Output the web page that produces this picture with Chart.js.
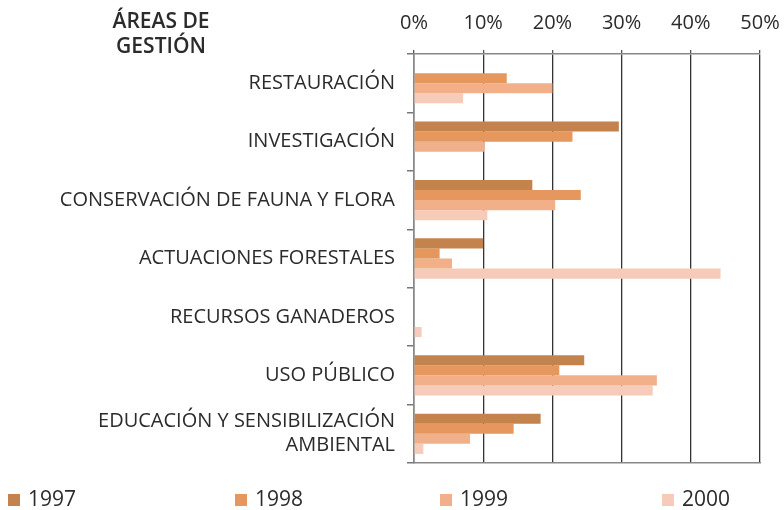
<!DOCTYPE html>
<html>
<head>
<meta charset="utf-8">
<script src="https://cdn.jsdelivr.net/npm/chart.js@4"></script>
<style>
  html, body { margin: 0; padding: 0; background: #fff; }
  #wrap { width: 784px; height: 510px; position: relative; }
</style>
</head>
<body>
<div id="wrap"><canvas id="chart" width="784" height="510"></canvas></div>
<script>
// áreas de gestión, % por año
const categories = [
  'RESTAURACIÓN',
  'INVESTIGACIÓN',
  'CONSERVACIÓN DE FAUNA Y FLORA',
  'ACTUACIONES FORESTALES',
  'RECURSOS GANADEROS',
  'USO PÚBLICO',
  ['EDUCACIÓN Y SENSIBILIZACIÓN', 'AMBIENTAL']
];
const years = ['1997', '1998', '1999', '2000'];
const v1997 = [0, 29.6, 17.1, 10.0, 0, 24.6, 18.3];
const v1998 = [13.4, 22.9, 24.1, 3.7, 0, 21.0, 14.4];
const v1999 = [20.0, 10.2, 20.4, 5.5, 0, 35.1, 8.1];
const v2000 = [7.1, 0, 10.6, 44.3, 1.1, 34.5, 1.35];
const xTicks = [0, 10, 20, 30, 40, 50];

const COLORS = ['#c4834d', '#e5975d', '#f2b08a', '#f6cbb9'];
const FONT = '"Open Sans", "Noto Sans", sans-serif';
const TEXT = '#2b2b2b';

// title + legend drawn by hand, the legend is spread over the full width
const extras = {
  id: 'extras',
  afterDraw(chart) {
    const c = chart.ctx;
    c.save();
    c.fillStyle = TEXT;
    c.font = '600 21px ' + FONT;
    c.textAlign = 'center';
    c.textBaseline = 'middle';
    c.fillText('ÁREAS DE', 161, 22);
    c.fillText('GESTIÓN', 161, 47);

    const xs = [8, 235, 440, 662];
    c.font = '21px ' + FONT;
    c.textAlign = 'left';
    chart.data.datasets.forEach((ds, i) => {
      c.fillStyle = ds.backgroundColor;
      c.fillRect(xs[i], 494, 12, 12);
      c.fillStyle = TEXT;
      c.fillText(ds.label, xs[i] + 20, 500);
    });
    c.restore();
  }
};

const series = [v1997, v1998, v1999, v2000];

new Chart(document.getElementById('chart'), {
  type: 'bar',
  data: {
    labels: categories,
    datasets: years.map((y, i) => ({
      label: y,
      data: series[i],
      backgroundColor: COLORS[i],
      borderWidth: 0,
      categoryPercentage: 0.69,
      barPercentage: 1.0
    }))
  },
  options: {
    indexAxis: 'y',
    responsive: false,
    animation: false,
    layout: { padding: { left: 0, right: 24, top: -4, bottom: 47 } },
    plugins: { legend: { display: false }, tooltip: { enabled: false } },
    scales: {
      x: {
        position: 'top',
        min: 0, max: 50,
        z: 1,
        afterBuildTicks: s => { s.ticks = xTicks.map(v => ({ value: v })); },
        afterFit: s => { s.paddingRight = 0; s.paddingLeft = 0; },
        grid: { color: '#333', lineWidth: 1.3, tickLength: 4, tickColor: '#555' },
        border: { color: '#888', width: 1.5 },
        ticks: {
          color: TEXT,
          padding: 15,
          font: { family: FONT, size: 20 },
          callback: v => v + '%'
        }
      },
      x2: {
        position: 'bottom',
        min: 0, max: 50,
        grid: { display: false, drawTicks: false },
        border: { color: '#888', width: 1.5 },
        ticks: { display: false }
      },
      y: {
        z: 1,
        afterFit: s => { s.width = 414; },
        grid: { drawOnChartArea: false, tickLength: 7, color: '#777', lineWidth: 1.5 },
        border: { color: '#888', width: 1.5 },
        ticks: {
          color: TEXT,
          padding: 12,
          font: { family: FONT, size: 20 }
        }
      }
    }
  },
  plugins: [extras]
});
</script>
</body>
</html>
